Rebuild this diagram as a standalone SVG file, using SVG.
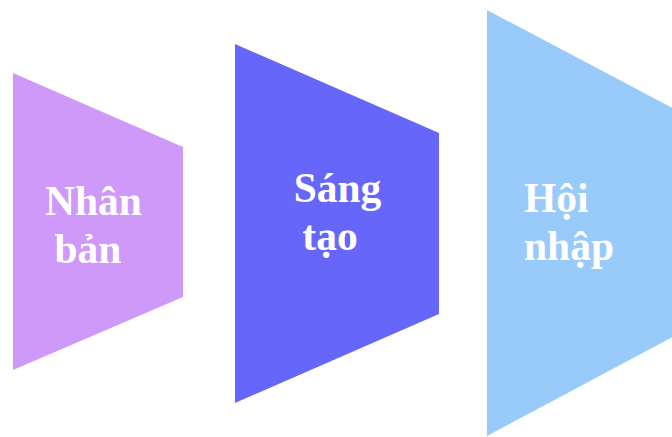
<svg xmlns="http://www.w3.org/2000/svg" width="672" height="437" viewBox="0 0 672 437">
<style>
.lbl{font-family:"Liberation Serif","Times New Roman",serif;font-weight:bold;font-size:41.5px;fill:#ffffff}
</style>
<rect width="672" height="437" fill="#ffffff"/>
<g id="node-nhan-ban">
<polygon points="13,73 183,147 183,297 13,370" fill="#CF99FA"/>
<text class="lbl" x="93.5" y="215" text-anchor="middle">Nhân</text>
<text class="lbl" x="88" y="263" text-anchor="middle">bản</text>
</g>
<g id="node-sang-tao">
<polygon points="235,44 439,133 439,314 235,403" fill="#6666FA"/>
<text class="lbl" x="337.5" y="202" text-anchor="middle">Sáng</text>
<text class="lbl" x="330" y="250" text-anchor="middle">tạo</text>
</g>
<g id="node-hoi-nhap">
<polygon points="487,10 682,113 682,332 487,436" fill="#99CBFA"/>
<text class="lbl" x="524" y="212">Hội</text>
<text class="lbl" x="524" y="260">nhập</text>
</g>
<g id="connectors"></g>
</svg>
